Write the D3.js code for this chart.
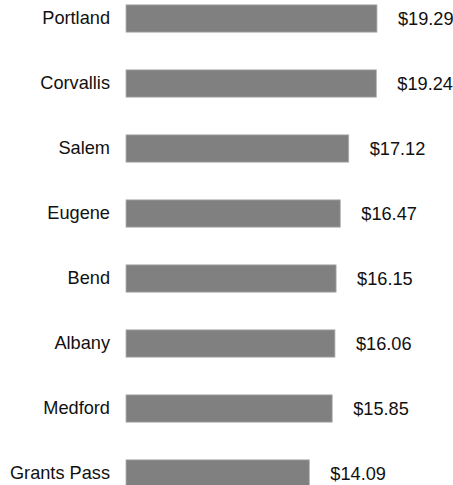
<!DOCTYPE html>
<html>
<head>
<meta charset="utf-8">
<script src="https://cdn.jsdelivr.net/npm/d3@7"></script>
<style>
  html, body { margin: 0; padding: 0; background: #fff; overflow: hidden; }
  svg { display: block; }
</style>
</head>
<body>
<svg id="chart" width="453" height="485"></svg>
<script>
// Hourly wage by city
const cities = ["Portland", "Corvallis", "Salem", "Eugene", "Bend", "Albany", "Medford", "Grants Pass"];
const wages = [19.29, 19.24, 17.12, 16.47, 16.15, 16.06, 15.85, 14.09];

const data = cities.map((c, i) => ({ city: c, wage: wages[i] }));

const svg = d3.select("svg#chart");
const font = "'Liberation Sans', Arial, sans-serif";

const x = d3.scaleLinear()
    .domain([0, 20])
    .range([126, 386.2]);

const y = d3.scaleBand()
    .domain(cities)
    .range([-14, 506])
    .paddingInner(0.58)
    .paddingOuter(0.29);

// bars
svg.append("g")
    .selectAll("rect")
    .data(data)
    .join("rect")
    .attr("x", x(0))
    .attr("y", d => y(d.city))
    .attr("width", d => x(d.wage) - x(0))
    .attr("height", y.bandwidth())
    .attr("fill", "#808080")
    .attr("stroke", "#b0b0b0")
    .attr("stroke-width", 0.8);

// category labels
const yAxis = svg.append("g")
    .attr("transform", `translate(${x(0)},0)`)
    .call(d3.axisLeft(y).tickSize(0).tickPadding(16));
yAxis.select(".domain").remove();
yAxis.selectAll("text")
    .style("font-family", font)
    .style("font-size", "18.2px")
    .attr("fill", "#111");

// value labels
svg.append("g")
    .selectAll("text")
    .data(data)
    .join("text")
    .attr("x", d => x(d.wage) + 21)
    .attr("y", d => y(d.city) + y.bandwidth() / 2)
    .attr("dy", "0.34em")
    .style("font-family", font)
    .style("font-size", "18.2px")
    .attr("fill", "#111")
    .text(d => "$" + d3.format(".2f")(d.wage));
</script>
</body>
</html>
